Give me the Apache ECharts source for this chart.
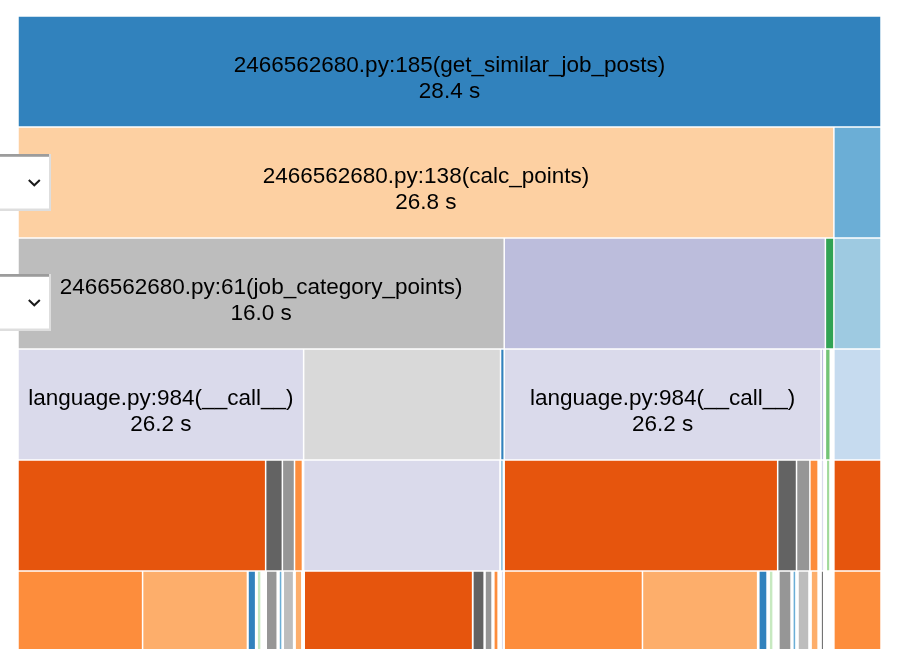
<!DOCTYPE html>
<html>
<head>
<meta charset="utf-8">
<script src="https://cdn.jsdelivr.net/npm/echarts@6/dist/echarts.min.js"></script>
<style>
  html, body { margin: 0; padding: 0; background: #fff; }
  #chart { width: 909px; height: 649px; }
</style>
</head>
<body>
<div id="chart"></div>
<script>
// ---- data ----
// frame depth (row), start time (s), duration (s)
const frameDepth = [
  0,
  1, 1,
  2, 2, 2, 2,
  3, 3, 3, 3, 3, 3, 3,
  4, 4, 4, 4, 4, 4, 4, 4, 4, 4, 4, 4, 4,
  5, 5, 5, 5, 5, 5, 5, 5, 5, 5, 5, 5, 5, 5, 5, 5, 5, 5, 5, 5, 5, 5, 5
];
const frameStart = [
  0.00,
  0.00, 26.85,
  0.00, 16.00, 26.57, 26.85,
  0.00, 9.40, 15.88, 16.00, 26.43, 26.57, 26.85,
  0.00, 8.15, 8.70, 9.10, 9.40, 15.88, 16.00, 25.00, 25.62, 26.06, 26.43, 26.60, 26.85,
  0.00, 4.10, 7.57, 7.87, 8.17, 8.59, 8.73, 9.12, 9.42, 14.97, 15.37, 15.66, 15.90,
  16.00, 20.55, 24.38, 24.72, 25.04, 25.50, 25.67, 26.10, 26.43, 26.85
];
const frameDuration = [
  28.40,
  26.85, 1.55,
  16.00, 10.57, 0.28, 1.55,
  9.40, 6.48, 0.12, 10.43, 0.09, 0.16, 1.55,
  8.15, 0.55, 0.40, 0.26, 6.46, 0.09, 9.00, 0.62, 0.44, 0.27, 0.09, 0.12, 1.55,
  4.10, 3.45, 0.25, 0.13, 0.36, 0.10, 0.34, 0.22, 5.54, 0.37, 0.23, 0.14, 0.05,
  4.55, 3.79, 0.27, 0.13, 0.40, 0.10, 0.36, 0.23, 0.04, 1.55
];
// function name shown on the frame ('' = no label) and total time shown
const frameName = [
  '2466562680.py:185(get_similar_job_posts)',
  '2466562680.py:138(calc_points)', '',
  '2466562680.py:61(job_category_points)', '', '', '',
  'language.py:984(__call__)', '', '', 'language.py:984(__call__)', '', '', '',
  '', '', '', '', '', '', '', '', '', '', '', '', '',
  '', '', '', '', '', '', '', '', '', '', '', '', '',
  '', '', '', '', '', '', '', '', '', ''
];
const frameTotal = [
  28.4,
  26.8, null,
  16.0, null, null, null,
  26.2, null, null, 26.2, null, null, null
];
// colour group of each frame (index into category palette)
const frameGroup = [
  0,
  7, 1,
  18, 14, 8, 2,
  15, 19, 0, 15, 14, 9, 3,
  4, 16, 17, 5, 15, 1, 4, 16, 17, 5, 15, 10, 4,
  5, 6, 0, 11, 17, 1, 18, 6, 4, 16, 17, 5, 15,
  5, 6, 0, 11, 17, 1, 18, 6, 16, 5
];
const xMax = 28.4;
const rowCount = 6;

// ---- styles ----
const palette = ['#3182bd','#6baed6','#9ecae1','#c6dbef','#e6550d','#fd8d3c','#fdae6b','#fdd0a2',
  '#31a354','#74c476','#a1d99b','#c7e9c0','#756bb1','#9e9ac8','#bcbddc','#dadaeb',
  '#636363','#969696','#bdbdbd','#d9d9d9'];

const seriesData = frameDepth.map((d, i) => ({
  value: [frameStart[i], frameStart[i] + frameDuration[i], d, i]
}));

const chart = echarts.init(document.getElementById('chart'), null, { renderer: 'canvas' });

function renderItem(params, api) {
  const i = api.value(3);
  const p0 = api.coord([api.value(0), api.value(2)]);
  const p1 = api.coord([api.value(1), api.value(2)]);
  const rowH = api.size([0, 1])[1];
  const gap = 0.75;
  const x = p0[0] + gap;
  const w = Math.max(p1[0] - p0[0] - 2 * gap, 1);
  const y = p0[1] + gap;
  const h = rowH - 2 * gap;
  const children = [{
    type: 'rect',
    shape: { x: x, y: y, width: w, height: h },
    style: { fill: palette[frameGroup[i]] }
  }];
  if (frameName[i]) {
    children.push({
      type: 'text',
      style: {
        text: frameName[i] + '\n' + frameTotal[i].toFixed(1) + ' s',
        x: (p0[0] + p1[0]) / 2,
        y: p0[1] + 62.5,
        align: 'center',
        verticalAlign: 'middle',
        fontSize: 22.5,
        lineHeight: 26,
        fontFamily: '"Liberation Sans", Arial, sans-serif',
        fill: '#000'
      }
    });
  }
  return { type: 'group', children: children };
}

function dropdown(top, bottom) {
  const mid = (top + bottom) / 2;
  return {
    type: 'group',
    z: 100,
    children: [
      { type: 'rect', z: 100, shape: { x: -20, y: top, width: 71, height: bottom - top }, style: { fill: '#dedede' } },
      { type: 'rect', z: 101, shape: { x: -20, y: top + 2.5, width: 69, height: bottom - top - 5 }, style: { fill: '#ffffff' } },
      { type: 'rect', z: 102, shape: { x: -20, y: top, width: 69, height: 2.7 }, style: { fill: '#9c9c9c' } },
      { type: 'polyline', z: 103, shape: { points: [[28.8, mid - 2.5], [34.3, mid + 2.8], [39.8, mid - 2.5]] },
        style: { stroke: '#1a1a1a', lineWidth: 2, fill: null } }
    ]
  };
}

chart.setOption({
  animation: false,
  grid: { left: 18, top: 16, width: 863, height: 666, outerBoundsMode: 'none', containLabel: false },
  xAxis: { type: 'value', min: 0, max: xMax, show: false },
  yAxis: { type: 'value', min: 0, max: rowCount, inverse: true, show: false },
  series: [{
    type: 'custom',
    renderItem: renderItem,
    data: seriesData,
    encode: { x: [0, 1], y: 2 },
    clip: false,
    silent: true
  }],
  graphic: [dropdown(154, 211), dropdown(274, 331)]
});
</script>
</body>
</html>
